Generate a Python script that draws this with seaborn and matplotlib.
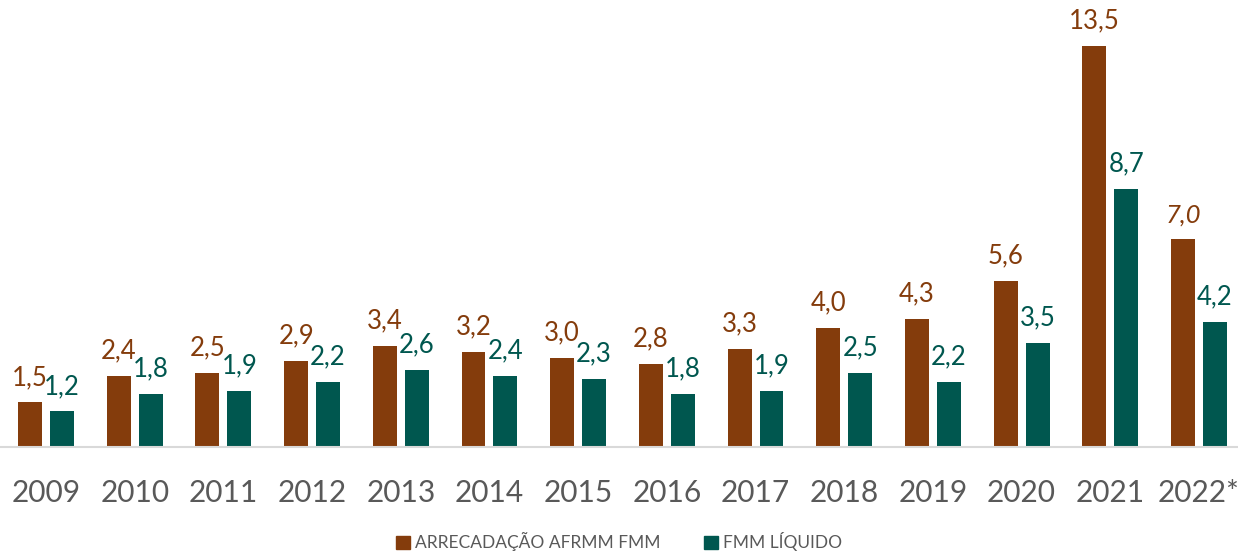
import numpy as np
import pandas as pd
import seaborn as sns
import matplotlib.pyplot as plt
from matplotlib.patches import Patch

years = ['2009', '2010', '2011', '2012', '2013', '2014', '2015', '2016',
         '2017', '2018', '2019', '2020', '2021', '2022*']
arrecadacao = [1.5, 2.4, 2.5, 2.9, 3.4, 3.2, 3.0, 2.8, 3.3, 4.0, 4.3, 5.6, 13.5, 7.0]
fmm_liquido = [1.2, 1.8, 1.9, 2.2, 2.6, 2.4, 2.3, 1.8, 1.9, 2.5, 2.2, 3.5, 8.7, 4.2]
series = ['ARRECADAÇÃO AFRMM FMM', 'FMM LÍQUIDO']

brown = '#843C0C'
teal = '#00574F'
gray = '#595959'

df = pd.DataFrame({
    'ano': years * 2,
    'valor': arrecadacao + fmm_liquido,
    'serie': [series[0]] * len(years) + [series[1]] * len(years),
})

sns.set_style('white')
plt.rcParams['font.family'] = ['Lato', 'DejaVu Sans']

fig = plt.figure(figsize=(12.38, 5.53), dpi=100)
ax = fig.add_axes([0, 0.1917, 1, 0.8083])

sns.barplot(data=df, x='ano', y='valor', hue='serie', palette=[brown, teal],
            width=0.72, gap=0.25, saturation=1, ax=ax, legend=False,
            edgecolor='none')

for cont, color, vals in zip(ax.containers, [brown, teal], [arrecadacao, fmm_liquido]):
    labels = [f'{v:.1f}'.replace('.', ',') for v in vals]
    texts = ax.bar_label(cont, labels=labels, padding=9, color=color, fontsize=18.5)
    if color == brown:
        texts[-1].set_fontstyle('italic')

ax.set_xlim(-0.519, 13.44)
ax.set_ylim(0, 15.05)
ax.set_xlabel('')
ax.set_ylabel('')
ax.set_yticks([])
for s in ['top', 'right', 'left']:
    ax.spines[s].set_visible(False)
ax.spines['bottom'].set_color('#D9D9D9')
ax.spines['bottom'].set_linewidth(1.5)
ax.tick_params(axis='x', length=0, pad=23, labelsize=21.5, labelcolor=gray)

handles = [Patch(color=brown), Patch(color=teal)]
fig.legend(handles, series, loc='center', bbox_to_anchor=(0.5, 0.02), ncol=2,
           frameon=False, fontsize=12.5, labelcolor=gray, handlelength=0.8,
           handleheight=0.8, handletextpad=0.3, columnspacing=2.5)

fig.savefig('out.png', dpi=100)
